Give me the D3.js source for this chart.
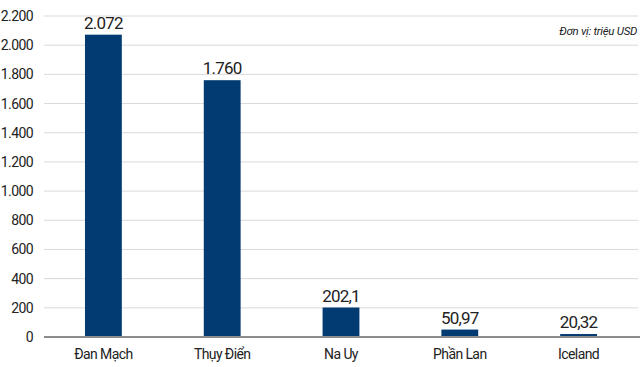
<!DOCTYPE html>
<html>
<head>
<meta charset="utf-8">
<script src="https://cdn.jsdelivr.net/npm/d3@7"></script>
<style>
  body { margin: 0; background: #fff; }
  svg text { font-family: Roboto, "Noto Sans", sans-serif; fill: #222; }
</style>
</head>
<body>
<script>
var width = 640;
var height = 367;

var countries = ["Đan Mạch", "Thụy Điển", "Na Uy", "Phần Lan", "Iceland"];
var values = [2072, 1760, 202.1, 50.97, 20.32];
var valueLabels = ["2.072", "1.760", "202,1", "50,97", "20,32"];
var ticks = [0, 200, 400, 600, 800, 1000, 1200, 1400, 1600, 1800, 2000, 2200];

var svg = d3.select("body").append("svg")
    .attr("width", width)
    .attr("height", height);

var x = d3.scaleBand()
    .domain(countries)
    .range([44, 638])
    .paddingInner(0.69)
    .paddingOuter(0.345);

var y = d3.scaleLinear()
    .domain([0, 2200])
    .range([337, 16]);

// grid lines
svg.append("g").selectAll("line")
    .data(ticks.slice(1))
    .enter().append("line")
    .attr("x1", 44).attr("x2", 638)
    .attr("y1", function (d) { return y(d); })
    .attr("y2", function (d) { return y(d); })
    .attr("stroke", "#d9d9d9")
    .attr("stroke-width", 1);

// y tick labels
svg.append("g").selectAll("text")
    .data(ticks)
    .enter().append("text")
    .attr("x", 33)
    .attr("y", function (d) { return y(d) + 5; })
    .attr("text-anchor", "end")
    .attr("font-size", 14)
    .attr("letter-spacing", -0.6)
    .text(function (d) { return d3.format(",")(d).replace(/,/g, "."); });

// bars
svg.append("g").selectAll("rect")
    .data(values)
    .enter().append("rect")
    .attr("x", function (d, i) { return x(countries[i]); })
    .attr("y", function (d) { return y(d); })
    .attr("width", x.bandwidth())
    .attr("height", function (d) { return y(0) - y(d); })
    .attr("fill", "#023a72");

// baseline
svg.append("line")
    .attr("x1", 44).attr("x2", 640)
    .attr("y1", y(0)).attr("y2", y(0))
    .attr("stroke", "#8c8c8c")
    .attr("stroke-width", 2);

// value labels
svg.append("g").selectAll("text")
    .data(values)
    .enter().append("text")
    .attr("x", function (d, i) { return x(countries[i]) + x.bandwidth() / 2; })
    .attr("y", function (d) { return y(d) - 6; })
    .attr("text-anchor", "middle")
    .attr("font-size", 17)
    .attr("letter-spacing", -0.8)
    .attr("fill", "#111")
    .text(function (d, i) { return valueLabels[i]; });

// category labels
svg.append("g").selectAll("text")
    .data(countries)
    .enter().append("text")
    .attr("x", function (d) { return x(d) + x.bandwidth() / 2; })
    .attr("y", 359)
    .attr("text-anchor", "middle")
    .attr("font-size", 14)
    .attr("letter-spacing", -0.6)
    .text(function (d) { return d; });

// unit note
svg.append("text")
    .attr("x", 637)
    .attr("y", 35)
    .attr("text-anchor", "end")
    .attr("font-size", 11.5)
    .attr("font-style", "italic")
    .attr("letter-spacing", -0.3)
    .text("Đơn vị: triệu USD");
</script>
</body>
</html>
